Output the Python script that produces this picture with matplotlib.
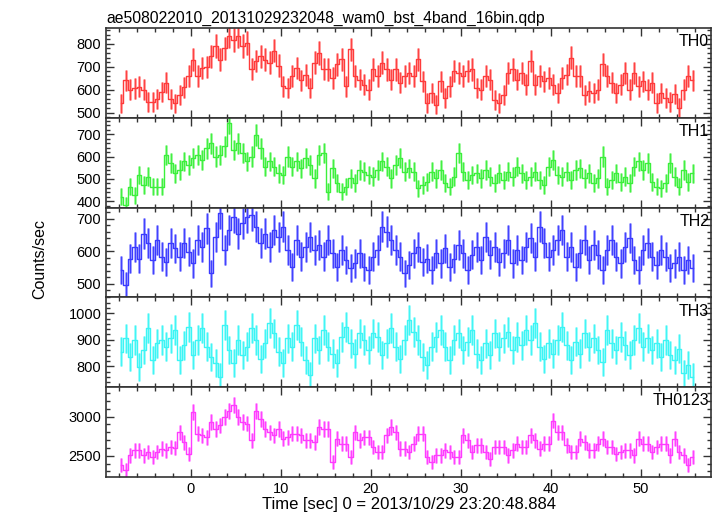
import numpy as np
import matplotlib
matplotlib.use("Agg")
import matplotlib.pyplot as plt
from matplotlib.ticker import MultipleLocator

plt.rcParams['font.family'] = ['Liberation Sans', 'DejaVu Sans']

# light curves, counts/sec, 0.5 s bins starting at t = -8 s
th0 = [540, 640, 600, 605, 612, 600, 545, 545, 560, 590, 630, 560, 540, 575, 610, 660,
       730, 660, 695, 700, 745, 790, 730, 780, 835, 815, 835, 790, 805, 690, 725, 745,
       730, 718, 770, 705, 615, 607, 660, 695, 640, 665, 607, 718, 760, 690, 688, 651,
       710, 732, 615, 776, 660, 644, 622, 600, 688, 660, 718, 688, 644, 688, 630, 659,
       674, 660, 732, 637, 541, 585, 534, 637, 563, 615, 681, 674, 659, 681, 688, 607,
       600, 659, 644, 556, 541, 578, 674, 688, 644, 674, 622, 725, 622, 659, 637, 651,
       622, 585, 651, 666, 740, 659, 659, 578, 592, 585, 600, 710, 659, 630, 585, 622,
       674, 600, 674, 615, 637, 600, 630, 541, 585, 563, 545, 580, 520, 600, 659, 640]

th1 = [421, 384, 466, 428, 518, 473, 510, 466, 466, 466, 607, 570, 525, 540, 578, 563,
       592, 607, 585, 637, 660, 600, 607, 645, 750, 630, 660, 615, 578, 600, 697, 637,
       555, 578, 555, 525, 518, 600, 555, 578, 548, 592, 563, 503, 607, 615, 443, 548,
       480, 443, 466, 503, 480, 540, 533, 518, 510, 540, 578, 555, 503, 563, 592, 533,
       548, 533, 458, 473, 488, 533, 503, 540, 480, 466, 510, 615, 533, 496, 518, 525,
       503, 540, 510, 480, 525, 496, 533, 510, 555, 525, 496, 510, 533, 496, 473, 555,
       585, 518, 510, 533, 496, 540, 548, 503, 525, 480, 503, 600, 466, 496, 525, 488,
       510, 480, 555, 578, 540, 570, 488, 466, 458, 480, 570, 510, 466, 540, 488, 525]

th2 = [543, 496, 578, 614, 578, 655, 625, 573, 635, 584, 568, 625, 609, 584, 625, 599,
       563, 635, 614, 671, 532, 645, 717, 604, 666, 707, 655, 686, 707, 712, 676, 625,
       655, 614, 666, 645, 676, 604, 553, 635, 584, 614, 645, 604, 619, 584, 635, 594,
       553, 604, 573, 548, 563, 594, 553, 543, 584, 604, 676, 661, 635, 604, 584, 532,
       558, 594, 614, 568, 578, 543, 594, 563, 609, 553, 578, 619, 594, 543, 589, 614,
       573, 645, 589, 614, 568, 594, 635, 563, 604, 573, 614, 640, 584, 676, 625, 584,
       604, 635, 666, 584, 614, 553, 594, 635, 573, 619, 589, 543, 604, 635, 584, 563,
       614, 640, 573, 543, 604, 625, 584, 558, 604, 584, 548, 563, 584, 543, 573, 548]

th3 = [855, 905, 836, 899, 798, 861, 943, 823, 886, 899, 874, 905, 936, 823, 880, 949,
       842, 899, 943, 874, 836, 811, 760, 955, 861, 811, 899, 842, 874, 943, 899, 829,
       886, 962, 924, 855, 811, 905, 874, 955, 892, 823, 767, 905, 861, 936, 874, 848,
       811, 911, 949, 886, 848, 924, 899, 861, 924, 911, 842, 886, 943, 874, 829, 899,
       974, 930, 899, 836, 804, 874, 911, 936, 874, 823, 899, 924, 861, 892, 936, 848,
       823, 886, 842, 924, 874, 905, 930, 861, 911, 880, 936, 899, 962, 874, 829, 886,
       848, 899, 949, 880, 823, 892, 848, 924, 874, 905, 861, 817, 936, 886, 861, 911,
       880, 842, 899, 943, 874, 905, 861, 886, 836, 899, 842, 823, 867, 773, 804, 760]

th0123 = [2377, 2314, 2504, 2568, 2568, 2504, 2547, 2483, 2547, 2589, 2568, 2610, 2600, 2801, 2674, 2525,
          3055, 2780, 2760, 2737, 2928, 2843, 2886, 2990, 3076, 3150, 2990, 2928, 2910, 2695, 3076, 2970,
          2843, 2800, 2758, 2843, 2716, 2737, 2780, 2780, 2758, 2695, 2695, 2674, 2864, 2843, 2843, 2420,
          2716, 2653, 2653, 2483, 2801, 2695, 2737, 2737, 2610, 2547, 2547, 2758, 2864, 2801, 2589, 2589,
          2547, 2653, 2780, 2780, 2483, 2420, 2504, 2504, 2568, 2547, 2483, 2483, 2758, 2695, 2547, 2631,
          2631, 2547, 2462, 2610, 2610, 2610, 2504, 2568, 2653, 2610, 2610, 2758, 2695, 2589, 2653, 2653,
          2949, 2801, 2801, 2631, 2547, 2547, 2716, 2674, 2568, 2568, 2653, 2716, 2610, 2610, 2525, 2547,
          2568, 2568, 2504, 2716, 2653, 2653, 2547, 2610, 2653, 2653, 2504, 2716, 2547, 2504, 2377, 2483]

names = ['TH0', 'TH1', 'TH2', 'TH3', 'TH0123']
series = [th0, th1, th2, th3, th0123]
colors = ['#ff3b3b', '#3bf03b', '#3b3bff', '#3bf5f5', '#ff3bff']
ylims = [(477, 869), (372, 773), (458, 735), (721, 1060), (2228, 3375)]
ymajor = [100, 100, 100, 100, 500]
yminor = [20, 20, 20, 20, 100]

t_start = -8.0
bin_size = 0.5

fig = plt.figure(figsize=(7.17, 5.16), dpi=100)
gs = fig.add_gridspec(5, 1, left=0.148, right=0.9916, top=0.9457, bottom=0.0756, hspace=0)

axes = []
for i, (name, vals, col) in enumerate(zip(names, series, colors)):
    ax = fig.add_subplot(gs[i], sharex=axes[0] if axes else None)
    axes.append(ax)
    y = np.array(vals, dtype=float)
    t = t_start + bin_size * (np.arange(len(y)) + 0.5)
    # poisson-ish errors for 0.5 s bins (a bit wider, like the qdp plot)
    err = 1.3 * np.sqrt(y / bin_size)
    ax.errorbar(t, y, yerr=err, fmt='none', ecolor=col, elinewidth=2.0, alpha=0.55)
    ax.vlines(t, y - err, y + err, color=col, lw=0.7, alpha=0.95)
    ax.step(t, y, where='mid', color=col, lw=1.0)

    ax.set_ylim(*ylims[i])
    ax.yaxis.set_major_locator(MultipleLocator(ymajor[i]))
    ax.yaxis.set_minor_locator(MultipleLocator(yminor[i]))
    ax.text(0.997, 0.93, name, transform=ax.transAxes, ha='right', va='top', fontsize=11.5)

    ax.tick_params(which='both', direction='in', top=True, right=True, labelsize=10.5, width=1.0, color='#333333')
    ax.tick_params(which='major', length=6)
    ax.tick_params(which='minor', length=3)
    for sp in ax.spines.values():
        sp.set_linewidth(1.2)
        sp.set_color('#333333')
    if i < 4:
        ax.tick_params(labelbottom=False)

axes[0].set_xlim(-9.41, 57.8)
axes[0].xaxis.set_major_locator(MultipleLocator(10))
axes[0].xaxis.set_minor_locator(MultipleLocator(2))

axes[0].set_title('ae508022010_20131029232048_wam0_bst_4band_16bin.qdp', loc='left', fontsize=11.3, pad=4)
axes[-1].set_xlabel('Time [sec] 0 = 2013/10/29 23:20:48.884', fontsize=12, labelpad=1)
fig.text(0.056, 0.498, 'Counts/sec', rotation=90, ha='center', va='center', fontsize=11.5)

fig.savefig('out.png', dpi=100)
